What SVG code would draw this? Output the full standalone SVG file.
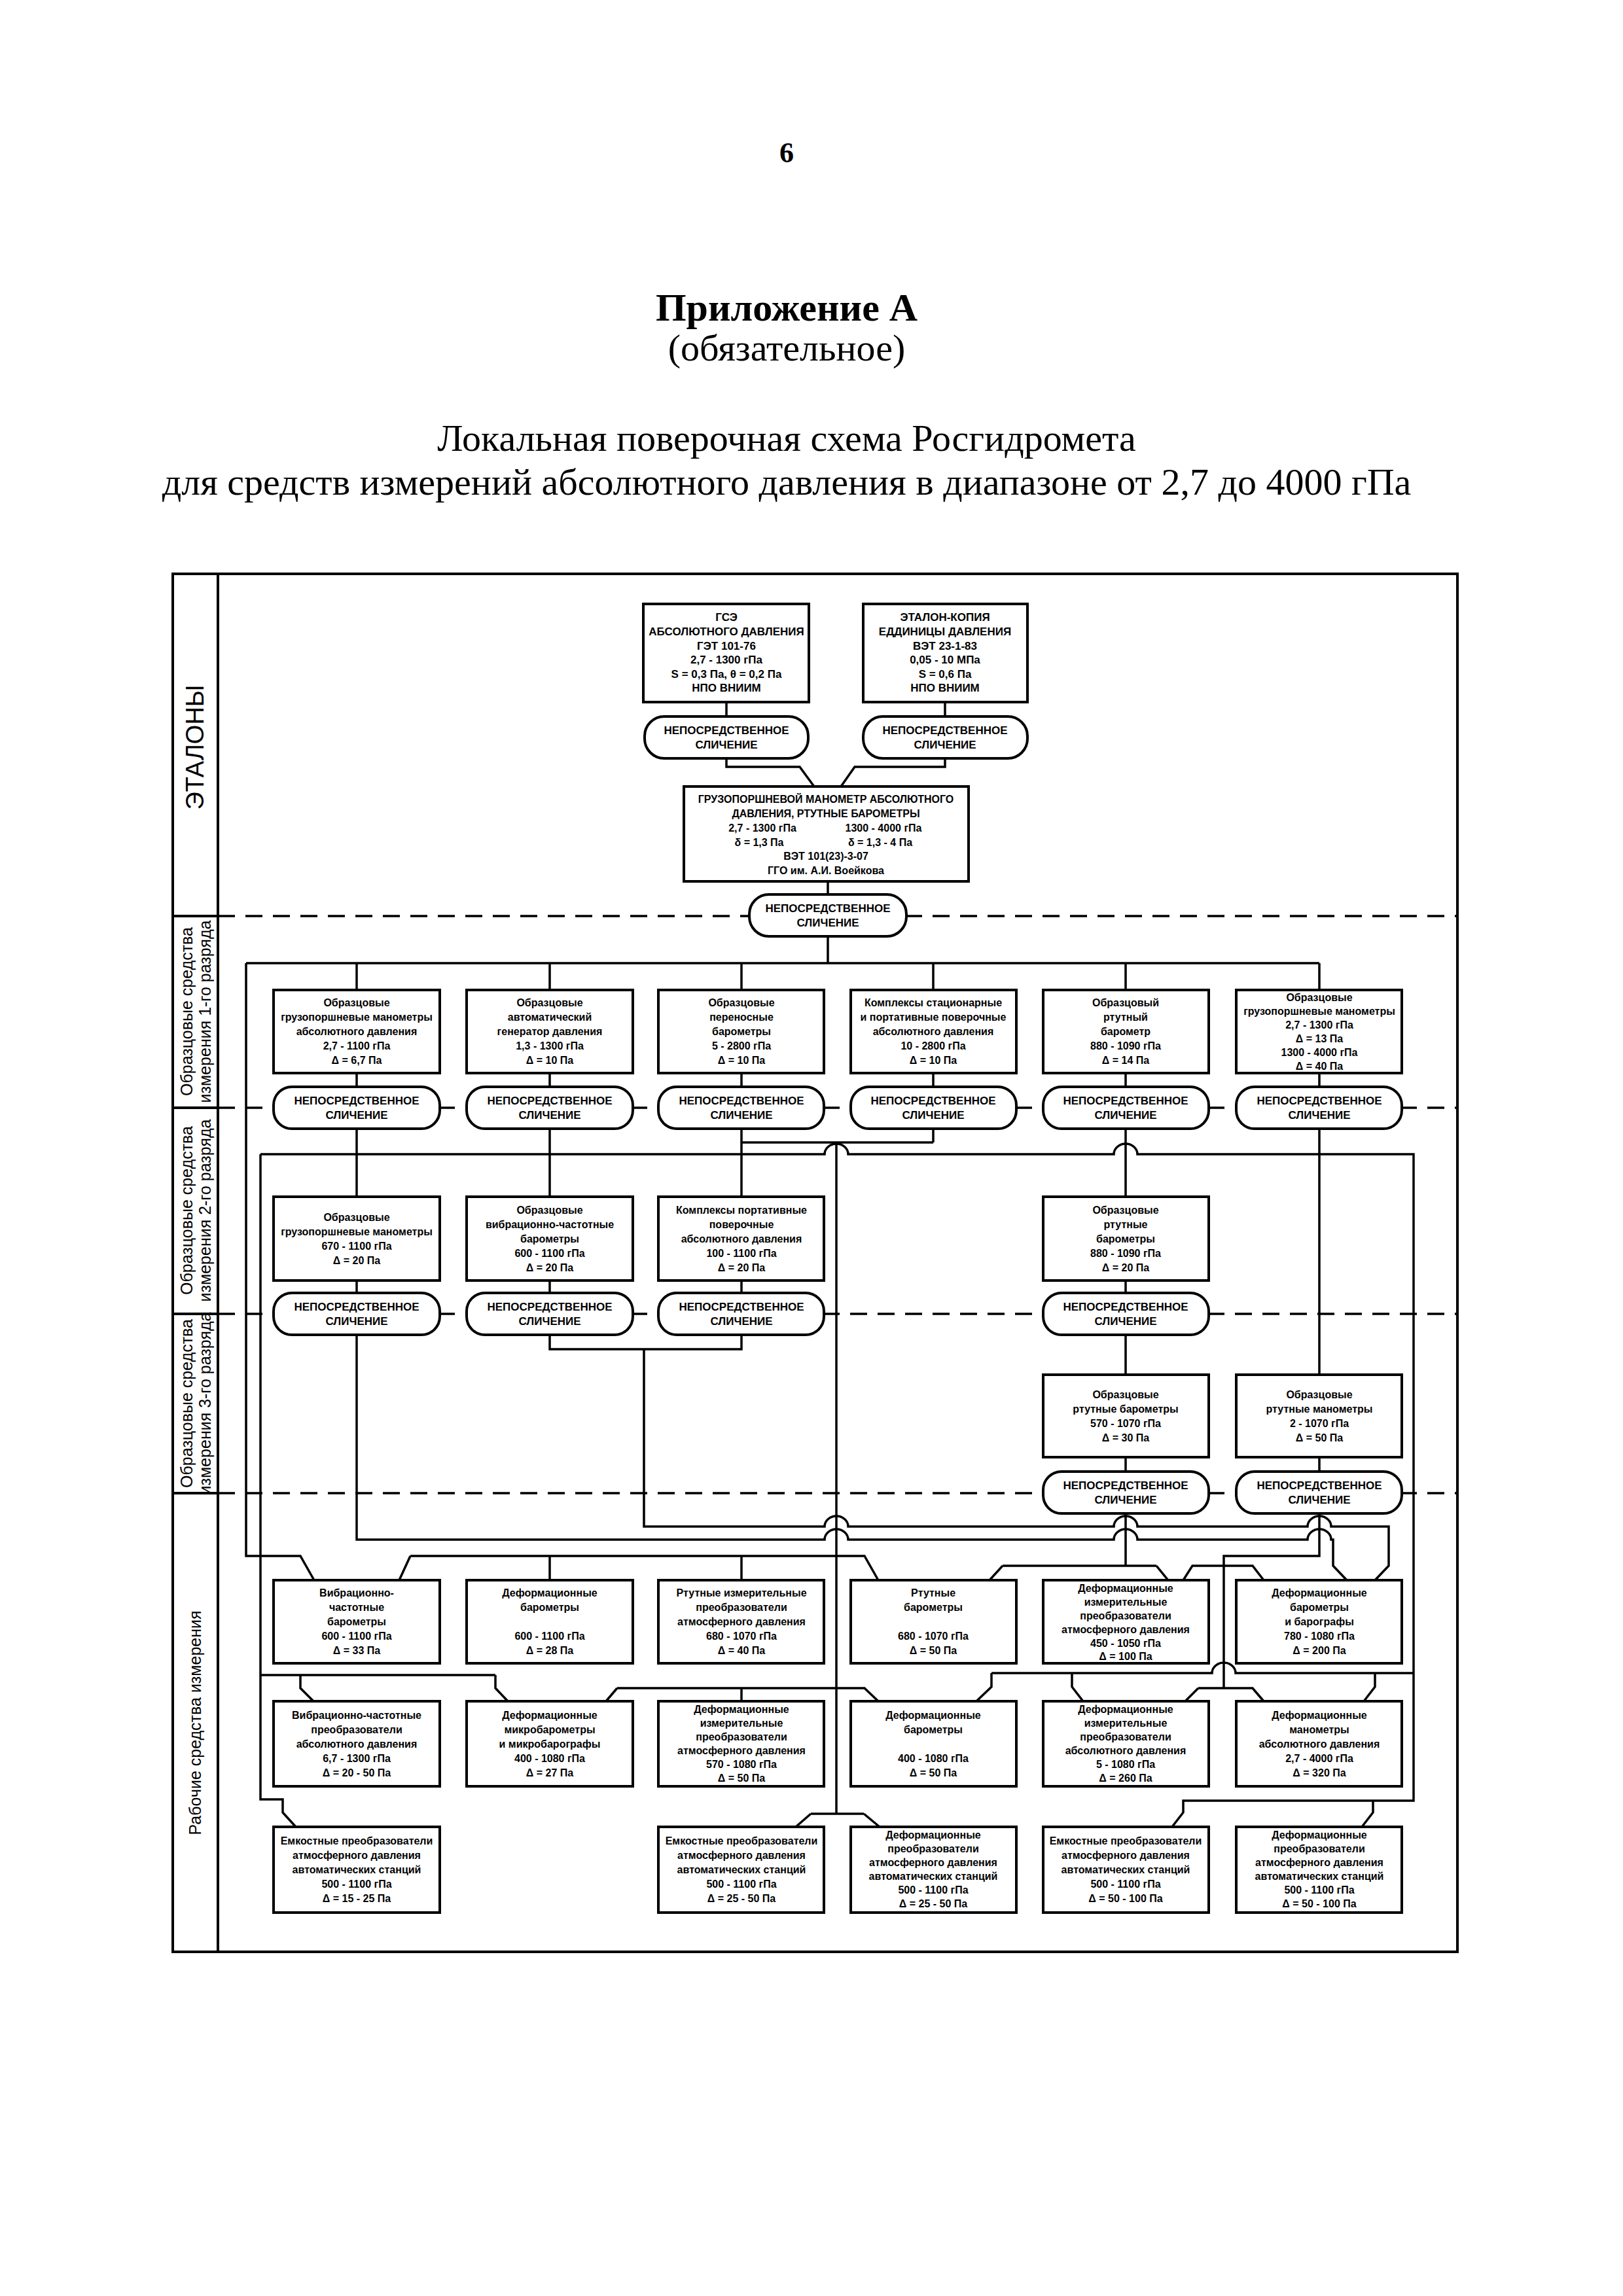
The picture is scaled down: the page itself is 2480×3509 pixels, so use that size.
<svg xmlns="http://www.w3.org/2000/svg" width="2480" height="3509" viewBox="0 0 2480 3509">
<style>
.b{fill:#fff;stroke:#000;stroke-width:4}
.o{fill:#fff;stroke:#000;stroke-width:4}
.c{fill:none;stroke:#000;stroke-width:3.5}
.d{fill:none;stroke:#000;stroke-width:3.5;stroke-dasharray:26 16}
.f{fill:none;stroke:#000;stroke-width:4}
text{font-family:"Liberation Sans",Arial,sans-serif;fill:#000}
.t{font-size:16px;font-weight:bold;text-anchor:middle;dominant-baseline:central}
.u{font-size:17px;font-weight:bold;text-anchor:middle;dominant-baseline:central}
.s{font-family:"Liberation Serif","Times New Roman",serif;text-anchor:middle}
.l{font-size:25px;text-anchor:middle;dominant-baseline:central}
.big{font-size:38px}
</style>
<rect width="2480" height="3509" fill="#fff"/>
<g id="title">
<text class="s" x="1202" y="248" font-size="44" font-weight="bold">6</text>
<text class="s" x="1202" y="490" font-size="60" font-weight="bold">Приложение А</text>
<text class="s" x="1202" y="551" font-size="58">(обязательное)</text>
<text class="s" x="1202" y="689" font-size="58">Локальная поверочная схема Росгидромета</text>
<text class="s" x="1202" y="756" font-size="58">для средств измерений абсолютного давления в диапазоне от 2,7 до 4000 гПа</text>
</g>
<g id="frame">
<rect class="f" x="264" y="877" width="1963" height="2106"/>
<path class="f" d="M333,877 V2983 M264,1400 H333 M264,1693 H333 M264,2008 H333 M264,2282 H333"/>
<text class="l big" transform="translate(298,1142) rotate(-90)">ЭТАЛОНЫ</text>
<text class="l" transform="translate(285,1546) rotate(-90)">Образцовые средства</text>
<text class="l" transform="translate(313,1546) rotate(-90)">измерения 1-го разряда</text>
<text class="l" transform="translate(285,1850) rotate(-90)">Образцовые средства</text>
<text class="l" transform="translate(313,1850) rotate(-90)">измерения 2-го разряда</text>
<text class="l" transform="translate(285,2145) rotate(-90)">Образцовые средства</text>
<text class="l" transform="translate(313,2145) rotate(-90)">измерения 3-го разряда</text>
<text class="l" transform="translate(298,2633) rotate(-90)">Рабочие средства измерения</text>
</g>
<g id="dashes">
<path class="d" d="M333,1400 H2227 M333,1693 H2227 M333,2008 H2227 M333,2282 H2227"/>
</g>
<g id="connectors">
<path class="c" d="M1110,1073 V1095 M1444,1073 V1095"/>
<path class="c" d="M1110,1159 V1172 H1222 L1244,1202 M1444,1159 V1172 H1306 L1285,1202"/>
<path class="c" d="M1265,1347 V1367 M1265,1431 V1472"/>
<path class="c" d="M376,1472 H2016 M545,1472 V1513 M840,1472 V1513 M1133,1472 V1513 M1426,1472 V1513 M1720,1472 V1513 M2016,1472 V1513"/>
<path class="c" d="M545,1640 V1661 M840,1640 V1661 M1133,1640 V1661 M1426,1640 V1661 M1720,1640 V1661 M2016,1640 V1661"/>
<path class="c" d="M545,1725 V1829 M840,1725 V1829 M1133,1725 V1829 M1133,1746 H1426 M1426,1725 V1746 M1720,1725 V1829 M2016,1725 V2101"/>
<path class="c" d="M1278,1746 V2772"/>
<path class="c" d="M398,1764 H1260 a18,16 0 0 1 36,0 H1702 a18,16 0 0 1 36,0 H2160 V2752 H1808 V2770 L1791,2792 M2098,2752 V2770 L2081,2792"/>
<path class="c" d="M376,1472 V2378 H459 L480,2415"/>
<path class="c" d="M398,1764 V2750 H432 V2770 L452,2792 M398,2560 H757 M459,2560 V2580 L479,2600 M757,2560 V2580 L776,2600"/>
<path class="c" d="M545,1957 V1976 M840,1957 V1976 M1133,1957 V1976 M1720,1957 V1976"/>
<path class="c" d="M545,2040 V2353 H1260 a18,16 0 0 1 36,0 H1702 a18,16 0 0 1 36,0 H1998 a18,16 0 0 1 36,0 H2037 V2393 L2058,2415"/>
<path class="c" d="M840,2040 V2062 H1133 V2040 M984,2062 V2333 H1260 a18,16 0 0 1 36,0 H1702 a18,16 0 0 1 36,0 H1998 a18,16 0 0 1 36,0 H2122 V2393 L2101,2415"/>
<path class="c" d="M1720,2040 V2101 M1720,2227 V2249 M2016,2227 V2249"/>
<path class="c" d="M1720,2313 V2393 M1532,2393 H1767 M1532,2393 L1512,2415 M1767,2393 L1785,2415"/>
<path class="c" d="M2016,2313 V2378 H1870 V2580 M1808,2415 L1822,2393 H1914 L1931,2415"/>
<path class="c" d="M627,2378 H1321 L1342,2415 M627,2378 L610,2415 M840,2378 V2415 M1133,2378 V2415"/>
<path class="c" d="M1515,2557 H1852 a18,16 0 0 1 36,0 H2160 M1515,2557 V2578 L1492,2600 M1638,2557 V2578 L1655,2600 M2101,2557 V2578 L2084,2600"/>
<path class="c" d="M943,2580 H1321 L1342,2600 M943,2580 L926,2600 M1133,2580 V2600"/>
<path class="c" d="M1831,2580 H1914 L1931,2600 M1831,2580 L1811,2600"/>
<path class="c" d="M1239,2772 H1320 M1239,2772 L1216,2792 M1320,2772 L1344,2792"/>
</g>
<g id="gse"><rect class="b" x="983" y="923" width="253" height="150"/>
<text class="u" x="1110" y="943">ГСЭ</text><text class="u" x="1110" y="965">АБСОЛЮТНОГО ДАВЛЕНИЯ</text><text class="u" x="1110" y="987">ГЭТ 101-76</text><text class="u" x="1110" y="1008">2,7 - 1300 гПа</text><text class="u" x="1110" y="1030">S = 0,3 Па, θ = 0,2 Па</text><text class="u" x="1110" y="1051">НПО ВНИИМ</text></g>
<g id="copy"><rect class="b" x="1319" y="923" width="251" height="150"/>
<text class="u" x="1444" y="943">ЭТАЛОН-КОПИЯ</text><text class="u" x="1444" y="965">ЕДДИНИЦЫ ДАВЛЕНИЯ</text><text class="u" x="1444" y="987">ВЭТ 23-1-83</text><text class="u" x="1444" y="1008">0,05 - 10 МПа</text><text class="u" x="1444" y="1030">S = 0,6 Па</text><text class="u" x="1444" y="1051">НПО ВНИИМ</text></g>
<g id="ov-e1"><rect class="o" x="985" y="1095" width="250" height="64" rx="30"/><text class="u" x="1110" y="1116">НЕПОСРЕДСТВЕННОЕ</text><text class="u" x="1110" y="1138">СЛИЧЕНИЕ</text></g>
<g id="ov-e2"><rect class="o" x="1319" y="1095" width="251" height="64" rx="30"/><text class="u" x="1444" y="1116">НЕПОСРЕДСТВЕННОЕ</text><text class="u" x="1444" y="1138">СЛИЧЕНИЕ</text></g>
<g id="vet"><rect class="b" x="1045" y="1202" width="435" height="145"/>
<text class="t" x="1262" y="1221">ГРУЗОПОРШНЕВОЙ МАНОМЕТР АБСОЛЮТНОГО</text><text class="t" x="1262" y="1243">ДАВЛЕНИЯ, РТУТНЫЕ БАРОМЕТРЫ</text>
<text class="t" x="1165" y="1265">2,7 - 1300 гПа</text><text class="t" x="1350" y="1265">1300 - 4000 гПа</text>
<text class="t" x="1160" y="1287">δ = 1,3 Па</text><text class="t" x="1345" y="1287">δ = 1,3 - 4 Па</text>
<text class="t" x="1262" y="1308">ВЭТ 101(23)-3-07</text><text class="t" x="1262" y="1330">ГГО им. А.И. Воейкова</text></g>
<g id="ov-e3"><rect class="o" x="1145" y="1367" width="240" height="64" rx="30"/><text class="u" x="1265" y="1388">НЕПОСРЕДСТВЕННОЕ</text><text class="u" x="1265" y="1410">СЛИЧЕНИЕ</text></g>

<g id="r1a"><rect class="b" x="418" y="1513" width="254" height="127"/><text class="t" x="545" y="1532">Образцовые</text><text class="t" x="545" y="1554">грузопоршневые манометры</text><text class="t" x="545" y="1576">абсолютного давления</text><text class="t" x="545" y="1598">2,7 - 1100 гПа</text><text class="t" x="545" y="1620">Δ = 6,7 Па</text></g>
<g id="r1b"><rect class="b" x="713" y="1513" width="254" height="127"/><text class="t" x="840" y="1532">Образцовые</text><text class="t" x="840" y="1554">автоматический</text><text class="t" x="840" y="1576">генератор давления</text><text class="t" x="840" y="1598">1,3 - 1300 гПа</text><text class="t" x="840" y="1620">Δ = 10 Па</text></g>
<g id="r1c"><rect class="b" x="1006" y="1513" width="253" height="127"/><text class="t" x="1133" y="1532">Образцовые</text><text class="t" x="1133" y="1554">переносные</text><text class="t" x="1133" y="1576">барометры</text><text class="t" x="1133" y="1598">5 - 2800 гПа</text><text class="t" x="1133" y="1620">Δ = 10 Па</text></g>
<g id="r1d"><rect class="b" x="1300" y="1513" width="253" height="127"/><text class="t" x="1426" y="1532">Комплексы стационарные</text><text class="t" x="1426" y="1554">и портативные поверочные</text><text class="t" x="1426" y="1576">абсолютного давления</text><text class="t" x="1426" y="1598">10 - 2800 гПа</text><text class="t" x="1426" y="1620">Δ = 10 Па</text></g>
<g id="r1e"><rect class="b" x="1594" y="1513" width="253" height="127"/><text class="t" x="1720" y="1532">Образцовый</text><text class="t" x="1720" y="1554">ртутный</text><text class="t" x="1720" y="1576">барометр</text><text class="t" x="1720" y="1598">880 - 1090 гПа</text><text class="t" x="1720" y="1620">Δ = 14 Па</text></g>
<g id="r1f"><rect class="b" x="1889" y="1513" width="253" height="127"/><text class="t" x="2016" y="1524">Образцовые</text><text class="t" x="2016" y="1545">грузопоршневые манометры</text><text class="t" x="2016" y="1566">2,7 - 1300 гПа</text><text class="t" x="2016" y="1587">Δ = 13 Па</text><text class="t" x="2016" y="1608">1300 - 4000 гПа</text><text class="t" x="2016" y="1629">Δ = 40 Па</text></g>
<g id="ov1a"><rect class="o" x="418" y="1661" width="254" height="64" rx="28"/><text class="u" x="545" y="1682">НЕПОСРЕДСТВЕННОЕ</text><text class="u" x="545" y="1704">СЛИЧЕНИЕ</text></g>
<g id="ov1b"><rect class="o" x="713" y="1661" width="254" height="64" rx="28"/><text class="u" x="840" y="1682">НЕПОСРЕДСТВЕННОЕ</text><text class="u" x="840" y="1704">СЛИЧЕНИЕ</text></g>
<g id="ov1c"><rect class="o" x="1006" y="1661" width="253" height="64" rx="28"/><text class="u" x="1133" y="1682">НЕПОСРЕДСТВЕННОЕ</text><text class="u" x="1133" y="1704">СЛИЧЕНИЕ</text></g>
<g id="ov1d"><rect class="o" x="1300" y="1661" width="253" height="64" rx="28"/><text class="u" x="1426" y="1682">НЕПОСРЕДСТВЕННОЕ</text><text class="u" x="1426" y="1704">СЛИЧЕНИЕ</text></g>
<g id="ov1e"><rect class="o" x="1594" y="1661" width="253" height="64" rx="28"/><text class="u" x="1720" y="1682">НЕПОСРЕДСТВЕННОЕ</text><text class="u" x="1720" y="1704">СЛИЧЕНИЕ</text></g>
<g id="ov1f"><rect class="o" x="1889" y="1661" width="253" height="64" rx="28"/><text class="u" x="2016" y="1682">НЕПОСРЕДСТВЕННОЕ</text><text class="u" x="2016" y="1704">СЛИЧЕНИЕ</text></g>

<g id="r2a"><rect class="b" x="418" y="1829" width="254" height="128"/><text class="t" x="545" y="1860">Образцовые</text><text class="t" x="545" y="1882">грузопоршневые манометры</text><text class="t" x="545" y="1904">670 - 1100 гПа</text><text class="t" x="545" y="1926">Δ = 20 Па</text></g>
<g id="r2b"><rect class="b" x="713" y="1829" width="254" height="128"/><text class="t" x="840" y="1849">Образцовые</text><text class="t" x="840" y="1871">вибрационно-частотные</text><text class="t" x="840" y="1893">барометры</text><text class="t" x="840" y="1915">600 - 1100 гПа</text><text class="t" x="840" y="1937">Δ = 20 Па</text></g>
<g id="r2c"><rect class="b" x="1006" y="1829" width="253" height="128"/><text class="t" x="1133" y="1849">Комплексы портативные</text><text class="t" x="1133" y="1871">поверочные</text><text class="t" x="1133" y="1893">абсолютного давления</text><text class="t" x="1133" y="1915">100 - 1100 гПа</text><text class="t" x="1133" y="1937">Δ = 20 Па</text></g>
<g id="r2e"><rect class="b" x="1594" y="1829" width="253" height="128"/><text class="t" x="1720" y="1849">Образцовые</text><text class="t" x="1720" y="1871">ртутные</text><text class="t" x="1720" y="1893">барометры</text><text class="t" x="1720" y="1915">880 - 1090 гПа</text><text class="t" x="1720" y="1937">Δ = 20 Па</text></g>
<g id="ov2a"><rect class="o" x="418" y="1976" width="254" height="64" rx="28"/><text class="u" x="545" y="1997">НЕПОСРЕДСТВЕННОЕ</text><text class="u" x="545" y="2019">СЛИЧЕНИЕ</text></g>
<g id="ov2b"><rect class="o" x="713" y="1976" width="254" height="64" rx="28"/><text class="u" x="840" y="1997">НЕПОСРЕДСТВЕННОЕ</text><text class="u" x="840" y="2019">СЛИЧЕНИЕ</text></g>
<g id="ov2c"><rect class="o" x="1006" y="1976" width="253" height="64" rx="28"/><text class="u" x="1133" y="1997">НЕПОСРЕДСТВЕННОЕ</text><text class="u" x="1133" y="2019">СЛИЧЕНИЕ</text></g>
<g id="ov2e"><rect class="o" x="1594" y="1976" width="253" height="64" rx="28"/><text class="u" x="1720" y="1997">НЕПОСРЕДСТВЕННОЕ</text><text class="u" x="1720" y="2019">СЛИЧЕНИЕ</text></g>

<g id="r3e"><rect class="b" x="1594" y="2101" width="253" height="126"/><text class="t" x="1720" y="2131">Образцовые</text><text class="t" x="1720" y="2153">ртутные барометры</text><text class="t" x="1720" y="2175">570 - 1070 гПа</text><text class="t" x="1720" y="2197">Δ = 30 Па</text></g>
<g id="r3f"><rect class="b" x="1889" y="2101" width="253" height="126"/><text class="t" x="2016" y="2131">Образцовые</text><text class="t" x="2016" y="2153">ртутные манометры</text><text class="t" x="2016" y="2175">2 - 1070 гПа</text><text class="t" x="2016" y="2197">Δ = 50 Па</text></g>
<g id="ov3e"><rect class="o" x="1594" y="2249" width="253" height="64" rx="28"/><text class="u" x="1720" y="2270">НЕПОСРЕДСТВЕННОЕ</text><text class="u" x="1720" y="2292">СЛИЧЕНИЕ</text></g>
<g id="ov3f"><rect class="o" x="1889" y="2249" width="253" height="64" rx="28"/><text class="u" x="2016" y="2270">НЕПОСРЕДСТВЕННОЕ</text><text class="u" x="2016" y="2292">СЛИЧЕНИЕ</text></g>

<g id="w1a"><rect class="b" x="418" y="2415" width="254" height="127"/><text class="t" x="545" y="2434">Вибрационно-</text><text class="t" x="545" y="2456">частотные</text><text class="t" x="545" y="2478">барометры</text><text class="t" x="545" y="2500">600 - 1100 гПа</text><text class="t" x="545" y="2522">Δ = 33 Па</text></g>
<g id="w1b"><rect class="b" x="713" y="2415" width="254" height="127"/><text class="t" x="840" y="2434">Деформационные</text><text class="t" x="840" y="2456">барометры</text><text class="t" x="840" y="2500">600 - 1100 гПа</text><text class="t" x="840" y="2522">Δ = 28 Па</text></g>
<g id="w1c"><rect class="b" x="1006" y="2415" width="253" height="127"/><text class="t" x="1133" y="2434">Ртутные измерительные</text><text class="t" x="1133" y="2456">преобразователи</text><text class="t" x="1133" y="2478">атмосферного давления</text><text class="t" x="1133" y="2500">680 - 1070 гПа</text><text class="t" x="1133" y="2522">Δ = 40 Па</text></g>
<g id="w1d"><rect class="b" x="1300" y="2415" width="253" height="127"/><text class="t" x="1426" y="2434">Ртутные</text><text class="t" x="1426" y="2456">барометры</text><text class="t" x="1426" y="2500">680 - 1070 гПа</text><text class="t" x="1426" y="2522">Δ = 50 Па</text></g>
<g id="w1e"><rect class="b" x="1594" y="2415" width="253" height="127"/><text class="t" x="1720" y="2427">Деформационные</text><text class="t" x="1720" y="2448">измерительные</text><text class="t" x="1720" y="2469">преобразователи</text><text class="t" x="1720" y="2490">атмосферного давления</text><text class="t" x="1720" y="2511">450 - 1050 гПа</text><text class="t" x="1720" y="2531">Δ = 100 Па</text></g>
<g id="w1f"><rect class="b" x="1889" y="2415" width="253" height="127"/><text class="t" x="2016" y="2434">Деформационные</text><text class="t" x="2016" y="2456">барометры</text><text class="t" x="2016" y="2478">и барографы</text><text class="t" x="2016" y="2500">780 - 1080 гПа</text><text class="t" x="2016" y="2522">Δ = 200 Па</text></g>

<g id="w2a"><rect class="b" x="418" y="2600" width="254" height="130"/><text class="t" x="545" y="2621">Вибрационно-частотные</text><text class="t" x="545" y="2643">преобразователи</text><text class="t" x="545" y="2665">абсолютного давления</text><text class="t" x="545" y="2687">6,7 - 1300 гПа</text><text class="t" x="545" y="2709">Δ = 20 - 50 Па</text></g>
<g id="w2b"><rect class="b" x="713" y="2600" width="254" height="130"/><text class="t" x="840" y="2621">Деформационные</text><text class="t" x="840" y="2643">микробарометры</text><text class="t" x="840" y="2665">и микробарографы</text><text class="t" x="840" y="2687">400 - 1080 гПа</text><text class="t" x="840" y="2709">Δ = 27 Па</text></g>
<g id="w2c"><rect class="b" x="1006" y="2600" width="253" height="130"/><text class="t" x="1133" y="2612">Деформационные</text><text class="t" x="1133" y="2633">измерительные</text><text class="t" x="1133" y="2654">преобразователи</text><text class="t" x="1133" y="2675">атмосферного давления</text><text class="t" x="1133" y="2696">570 - 1080 гПа</text><text class="t" x="1133" y="2717">Δ = 50 Па</text></g>
<g id="w2d"><rect class="b" x="1300" y="2600" width="253" height="130"/><text class="t" x="1426" y="2621">Деформационные</text><text class="t" x="1426" y="2643">барометры</text><text class="t" x="1426" y="2687">400 - 1080 гПа</text><text class="t" x="1426" y="2709">Δ = 50 Па</text></g>
<g id="w2e"><rect class="b" x="1594" y="2600" width="253" height="130"/><text class="t" x="1720" y="2612">Деформационные</text><text class="t" x="1720" y="2633">измерительные</text><text class="t" x="1720" y="2654">преобразователи</text><text class="t" x="1720" y="2675">абсолютного давления</text><text class="t" x="1720" y="2696">5 - 1080 гПа</text><text class="t" x="1720" y="2717">Δ = 260 Па</text></g>
<g id="w2f"><rect class="b" x="1889" y="2600" width="253" height="130"/><text class="t" x="2016" y="2621">Деформационные</text><text class="t" x="2016" y="2643">манометры</text><text class="t" x="2016" y="2665">абсолютного давления</text><text class="t" x="2016" y="2687">2,7 - 4000 гПа</text><text class="t" x="2016" y="2709">Δ = 320 Па</text></g>

<g id="w3a"><rect class="b" x="418" y="2792" width="254" height="131"/><text class="t" x="545" y="2813">Емкостные преобразователи</text><text class="t" x="545" y="2835">атмосферного давления</text><text class="t" x="545" y="2857">автоматических станций</text><text class="t" x="545" y="2879">500 - 1100 гПа</text><text class="t" x="545" y="2901">Δ = 15 - 25 Па</text></g>
<g id="w3c"><rect class="b" x="1006" y="2792" width="253" height="131"/><text class="t" x="1133" y="2813">Емкостные преобразователи</text><text class="t" x="1133" y="2835">атмосферного давления</text><text class="t" x="1133" y="2857">автоматических станций</text><text class="t" x="1133" y="2879">500 - 1100 гПа</text><text class="t" x="1133" y="2901">Δ = 25 - 50 Па</text></g>
<g id="w3d"><rect class="b" x="1300" y="2792" width="253" height="131"/><text class="t" x="1426" y="2804">Деформационные</text><text class="t" x="1426" y="2825">преобразователи</text><text class="t" x="1426" y="2846">атмосферного давления</text><text class="t" x="1426" y="2867">автоматических станций</text><text class="t" x="1426" y="2888">500 - 1100 гПа</text><text class="t" x="1426" y="2909">Δ = 25 - 50 Па</text></g>
<g id="w3e"><rect class="b" x="1594" y="2792" width="253" height="131"/><text class="t" x="1720" y="2813">Емкостные преобразователи</text><text class="t" x="1720" y="2835">атмосферного давления</text><text class="t" x="1720" y="2857">автоматических станций</text><text class="t" x="1720" y="2879">500 - 1100 гПа</text><text class="t" x="1720" y="2901">Δ = 50 - 100 Па</text></g>
<g id="w3f"><rect class="b" x="1889" y="2792" width="253" height="131"/><text class="t" x="2016" y="2804">Деформационные</text><text class="t" x="2016" y="2825">преобразователи</text><text class="t" x="2016" y="2846">атмосферного давления</text><text class="t" x="2016" y="2867">автоматических станций</text><text class="t" x="2016" y="2888">500 - 1100 гПа</text><text class="t" x="2016" y="2909">Δ = 50 - 100 Па</text></g>
</svg>
